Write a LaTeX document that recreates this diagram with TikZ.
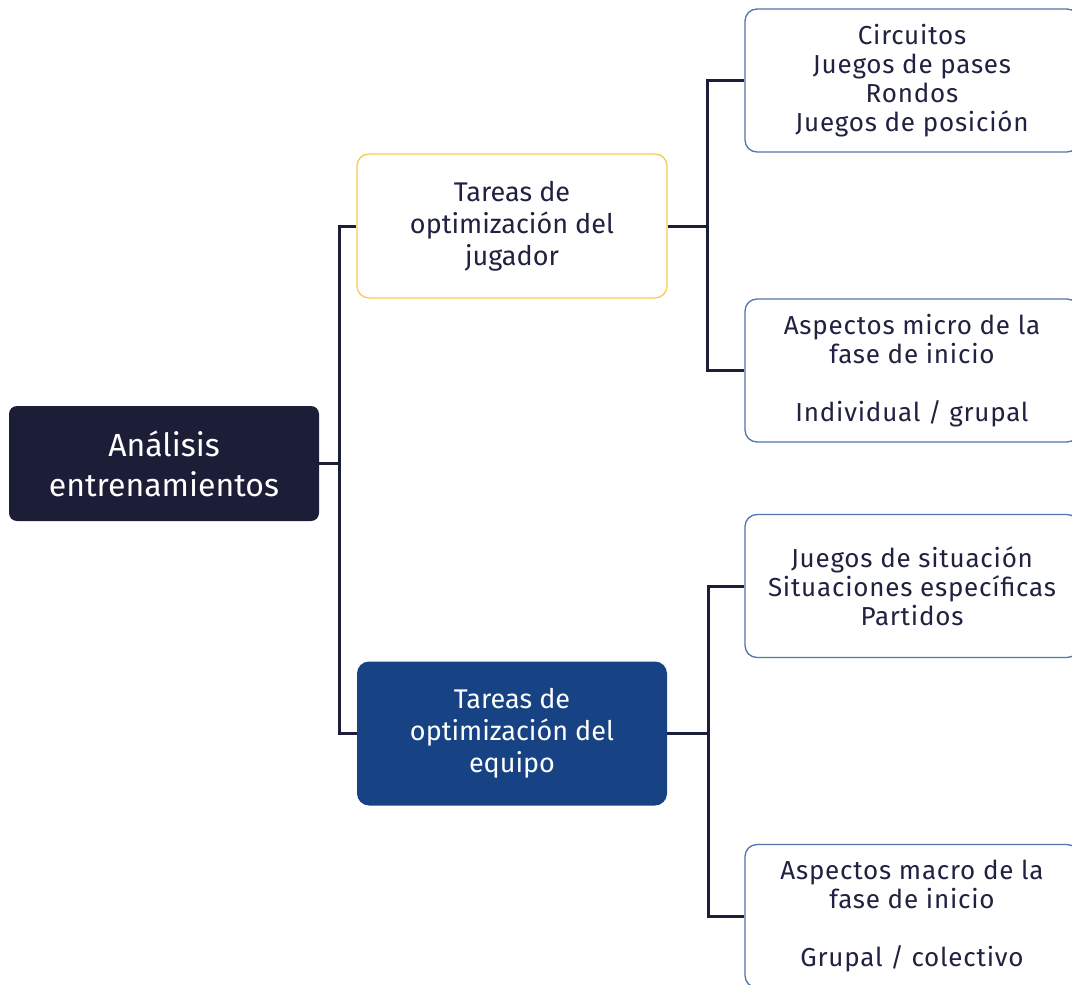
\documentclass[tikz,border=0pt]{standalone}
\usepackage{fontspec}
\setmainfont{Fira Sans}
\newfontfamily\leaffont[LetterSpace=3]{Fira Sans}
\definecolor{navy}{HTML}{1C1D37}
\definecolor{txt}{HTML}{1F2240}
\definecolor{gold}{HTML}{F5CD55}
\definecolor{royal}{HTML}{174385}
\definecolor{edge}{HTML}{5276AC}
\begin{document}
\begin{tikzpicture}[x=1pt,y=-1pt,
  rootbox/.style={fill=navy,draw=none,rounded corners=8pt,minimum width=310pt,minimum height=115pt,text=white,align=center,font=\fontsize{32}{40}\selectfont,inner sep=0pt},
  midbox/.style={rounded corners=12pt,minimum width=310pt,minimum height=144pt,align=center,font=\fontsize{27}{32}\selectfont,inner sep=0pt},
  leafbox/.style={draw=edge,line width=1.3pt,fill=white,rounded corners=12pt,minimum width=334pt,minimum height=143pt,text=txt,align=center,font=\leaffont\fontsize{26}{29}\selectfont,inner sep=0pt},
  link/.style={draw=navy,line width=3pt}]
\useasboundingbox (0,0) rectangle (1072,985);
\clip (0,0) rectangle (1072,985);
\fill[white] (0,0) rectangle (1072,985);
\node[rootbox] (root) at (164,463.5) {Análisis\\entrenamientos};
\node[midbox,draw=gold,line width=1.3pt,fill=white,text=txt] (t1) at (512,226) {Tareas de\\optimización del\\jugador};
\node[midbox,fill=royal,draw=none,text=white] (t2) at (512,733.5) {Tareas de\\optimización del\\equipo};
\node[leafbox] (r1) at (912,80.5) {Circuitos\\Juegos de pases\\Rondos\\Juegos de posición};
\node[leafbox] (r2) at (912,370.5) {Aspectos micro de la\\fase de inicio\\[29pt]Individual / grupal};
\node[leafbox] (r3) at (912,586) {Juegos de situación\\Situaciones específicas\\Partidos};
\node[leafbox] (r4) at (912,916) {Aspectos macro de la\\fase de inicio\\[29pt]Grupal / colectivo};
\coordinate (j1) at (339,463.5);
\coordinate (j2) at (707,226);
\coordinate (j3) at (708,733.5);
\draw[link] (root.east) -- (j1);
\draw[link] (t1.west) -| (j1) |- (t2.west);
\draw[link] (t1.east) -- (j2);
\draw[link] (r1.west) -| (j2) |- (r2.west);
\draw[link] (t2.east) -- (j3);
\draw[link] (r3.west) -| (j3) |- (r4.west);
\end{tikzpicture}
\end{document}
